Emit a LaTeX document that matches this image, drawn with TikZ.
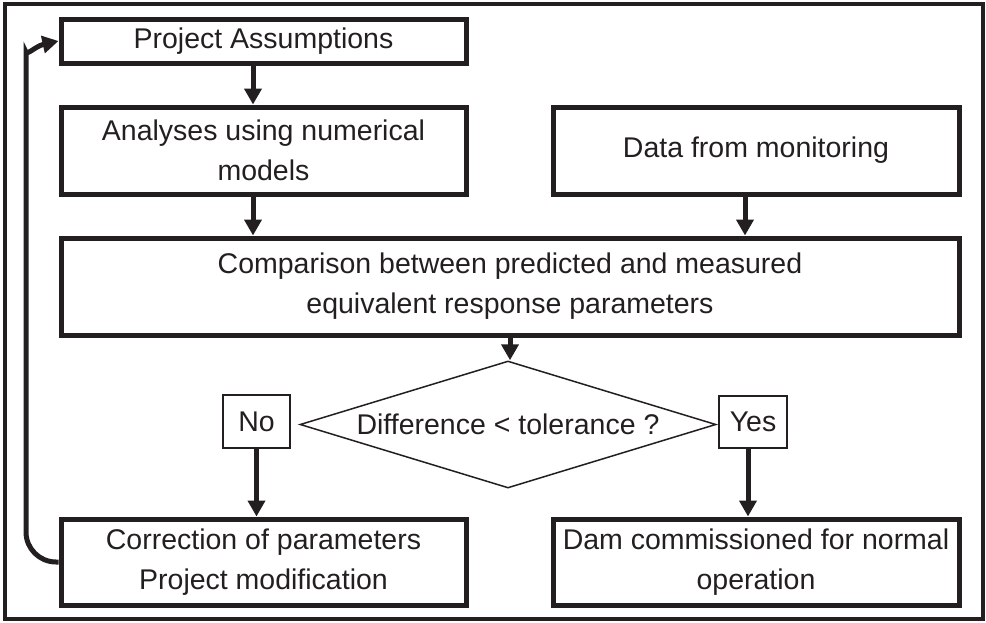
\documentclass[tikz,border=0pt]{standalone}
\usepackage{fontspec}
\setmainfont{Liberation Sans}
\usetikzlibrary{arrows.meta,shapes.geometric}
\definecolor{ink}{RGB}{35,31,32}
\begin{document}
\begin{tikzpicture}[x=1pt,y=-1pt,color=ink,
  txt/.style={font=\fontsize{28.5}{40}\selectfont,align=center},
  stepbox/.style={txt,draw,line width=5pt,inner sep=0pt},
  tagbox/.style={txt,draw,line width=1.5pt,inner sep=0pt},
  decbox/.style={txt,draw,diamond,line width=1.5pt,inner sep=0pt,aspect=3.28},
  arr/.style={line width=5pt,-{Triangle[length=16pt,width=17pt]}}]
\useasboundingbox (0,0) rectangle (986,622);
\draw[line width=4pt] (5,4) rectangle (983,619);

\node[stepbox,minimum width=405pt,minimum height=44pt] (proj) at (263.5,41)
  {Project Assumptions};
\node[stepbox,minimum width=405pt,minimum height=87pt] (ana) at (263.5,150.5)
  {Analyses using numerical\\models};
\node[stepbox,minimum width=406pt,minimum height=87pt] (data) at (756,150.5)
  {Data from monitoring};
\node[stepbox,minimum width=898pt,minimum height=97pt] (comp) at (510,286.5)
  {Comparison between predicted and measured\\equivalent response parameters};
\node[decbox,minimum width=416pt,minimum height=127pt] (dec) at (508,424.5)
  {Difference < tolerance ?};
\node[tagbox,minimum width=67pt,minimum height=53pt] (no) at (256.5,421.5) {No};
\node[tagbox,minimum width=68pt,minimum height=52pt] (yes) at (753,422) {Yes};
\node[stepbox,minimum width=405pt,minimum height=86pt] (corr) at (263.5,562)
  {Correction of parameters\\Project modification};
\node[stepbox,minimum width=406pt,minimum height=86pt] (dam) at (756,562)
  {Dam commissioned for normal\\operation};

\coordinate (p1) at ([xshift=-10.5pt]proj.south);
\coordinate (a1) at ([xshift=-10.5pt]ana.south);
\coordinate (d1) at ([xshift=-11pt]data.south);
\coordinate (y1) at ([xshift=-5pt]yes.south);
\draw[arr] (p1) -- (p1 |- ana.north);
\draw[arr] (a1) -- (a1 |- comp.north);
\draw[arr] (d1) -- (d1 |- comp.north);
\draw[arr] (comp.south) -- (comp.south |- dec.north);
\draw[arr] (no.south) -- (no.south |- corr.north);
\draw[arr] (y1) -- (y1 |- dam.north);

\coordinate (fb1) at (26,562);
\coordinate (fb2) at (26,82);
\draw[arr,rounded corners=30pt] (corr.west) -- (fb1) -- (fb2)
  .. controls (26,56) and (36,46) .. (proj.west);
\end{tikzpicture}
\end{document}
